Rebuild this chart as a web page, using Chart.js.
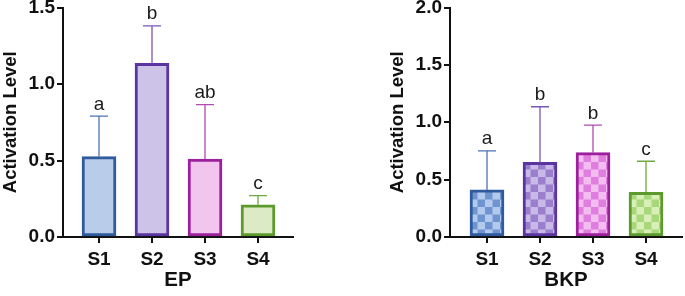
<!DOCTYPE html>
<html><head><meta charset="utf-8">
<script src="https://cdn.jsdelivr.net/npm/chart.js@4/dist/chart.umd.min.js"></script>
<style>
html,body{margin:0;padding:0;background:#fff;}
#wrap{position:relative;width:685px;height:296px;overflow:hidden;background:#fff;}
#c1{position:absolute;left:0;top:0;}
#c2{position:absolute;left:387px;top:0;}
</style></head><body>
<div id="wrap"><canvas id="c1" width="330" height="296"></canvas><canvas id="c2" width="298" height="296"></canvas></div>
<script>
// ---- data ----
const categories = ['S1', 'S2', 'S3', 'S4'];
const epMeans   = [0.525, 1.135, 0.51, 0.21];
const epErrTop  = [0.79, 1.38, 0.865, 0.27];
const epLetters = ['a', 'b', 'ab', 'c'];
const epTicks   = [0, 0.5, 1.0, 1.5];
const bkpMeans   = [0.41, 0.65, 0.735, 0.39];
const bkpErrTop  = [0.75, 1.135, 0.975, 0.66];
const bkpLetters = ['a', 'b', 'b', 'c'];
const bkpTicks   = [0, 0.5, 1.0, 1.5, 2.0];

// ---- styles ----
const FONT = 'Liberation Sans, Arial, Helvetica, sans-serif';
const INK = '#111111';
const borderCols = ['#2f5a9c', '#5a35a0', '#9c1f9c', '#5c9a2e'];
const errCols    = ['#4d72b4', '#7857bc', '#b24ab2', '#6eaa40'];
const epFills    = ['#b9cdea', '#cdc3e8', '#f2c5ef', '#dcebc6'];
const darkSq     = ['#6f95d0', '#9a7fcc', '#e07ee0', '#a8d87a'];
const lightSq    = ['#b4c9ee', '#c9b9e8', '#f3bdf0', '#d8efb8'];
const BAR_W = 34, SQ = 7.5;

function makeTile(dark, light) {
  const c = document.createElement('canvas');
  c.width = c.height = SQ * 2;
  const g = c.getContext('2d');
  g.fillStyle = light; g.fillRect(0, 0, SQ * 2, SQ * 2);
  g.fillStyle = dark; g.fillRect(0, 0, SQ, SQ); g.fillRect(SQ, SQ, SQ, SQ);
  return c;
}
const tiles = darkSq.map((d, i) => makeTile(d, lightSq[i]));

function errPlugin(means, tops, letters) {
  return {
    id: 'errbars',
    afterDatasetsDraw(chart) {
      const { ctx, scales: { x, y } } = chart;
      ctx.save();
      tops.forEach((t, i) => {
        const px = x.getPixelForValue(i);
        const y0 = y.getPixelForValue(means[i]);
        const y1 = y.getPixelForValue(t);
        ctx.strokeStyle = errCols[i];
        ctx.lineWidth = 1.3;
        ctx.beginPath();
        ctx.moveTo(px, y0); ctx.lineTo(px, y1);
        ctx.moveTo(px - 9, y1); ctx.lineTo(px + 9, y1);
        ctx.stroke();
        ctx.fillStyle = '#1a1a1a';
        ctx.font = '19px ' + FONT;
        ctx.textAlign = 'center';
        ctx.textBaseline = 'alphabetic';
        ctx.fillText(letters[i], px, y1 - 6.5);
      });
      ctx.restore();
    }
  };
}

function makeChart(canvasId, cfg) {
  const axisW = cfg.axisWidth;
  return new Chart(document.getElementById(canvasId), {
    type: 'bar',
    data: {
      labels: categories,
      datasets: [{
        data: cfg.means,
        backgroundColor: cfg.bg,
        borderColor: borderCols,
        borderWidth: 3,
        borderSkipped: false,
        barThickness: BAR_W
      }]
    },
    options: {
      responsive: false,
      animation: false,
      devicePixelRatio: 1,
      events: [],
      layout: { padding: { left: 0, right: cfg.padRight, top: 0, bottom: 0 } },
      plugins: { legend: { display: false }, tooltip: { enabled: false } },
      scales: {
        x: {
          type: 'category',
          offset: true,
          afterBuildTicks: s => { s._startValue = -cfg.edge / cfg.step; s._valueRange = cfg.axisLen / cfg.step; },
          ticks: { font: { family: FONT, size: 19, weight: 'bold' }, color: INK, padding: 5, maxRotation: 0 },
          grid: { offset: false, drawOnChartArea: false, drawTicks: true, tickLength: 6, color: INK, lineWidth: 2 },
          border: { display: true, color: INK, width: 2 },
          title: { display: true, text: cfg.title, font: { family: FONT, size: 20.5, weight: 'bold' }, color: INK, padding: { top: 0, bottom: 3 } },
          afterFit: s => { s.height = 59; s.paddingLeft = 0; s.paddingRight = 0; }
        },
        y: {
          min: 0, max: cfg.ticks[cfg.ticks.length - 1],
          afterBuildTicks: s => { s.ticks = cfg.ticks.map(v => ({ value: v })); },
          ticks: { callback: v => Number(v).toFixed(1), font: { family: FONT, size: 19, weight: 'bold' }, color: INK, padding: 2 },
          grid: { drawOnChartArea: false, drawTicks: true, tickLength: 6, color: INK, lineWidth: 2 },
          border: { display: true, color: INK, width: 2 },
          title: { display: true, text: 'Activation Level', font: { family: FONT, size: 18.5, weight: 'bold' }, color: INK, padding: 0 },
          afterFit: s => { s.width = axisW; s.paddingTop = 7.5; s.paddingBottom = 0; }
        }
      }
    },
    plugins: [errPlugin(cfg.means, cfg.tops, cfg.letters)]
  });
}

makeChart('c1', {
  means: epMeans, tops: epErrTop, letters: epLetters, ticks: epTicks, title: 'EP',
  bg: epFills, axisWidth: 63, padRight: 37, edge: 36, step: 53, axisLen: 230
});

makeChart('c2', {
  means: bkpMeans, tops: bkpErrTop, letters: bkpLetters, ticks: bkpTicks, title: 'BKP',
  bg: (ctx) => {
    const i = ctx.dataIndex;
    const ch = ctx.chart;
    if (i === undefined || !ch.scales || !ch.scales.x || !ch.scales.y) return lightSq[0];
    const pat = ch.ctx.createPattern(tiles[i], 'repeat');
    const x0 = ch.scales.x.getPixelForValue(i) - BAR_W / 2;
    const y0 = ch.scales.y.getPixelForValue(0);
    pat.setTransform(new DOMMatrix().translate(x0, y0));
    return pat;
  },
  axisWidth: 63, padRight: 3, edge: 37, step: 53, axisLen: 232
});
</script>
</body></html>
